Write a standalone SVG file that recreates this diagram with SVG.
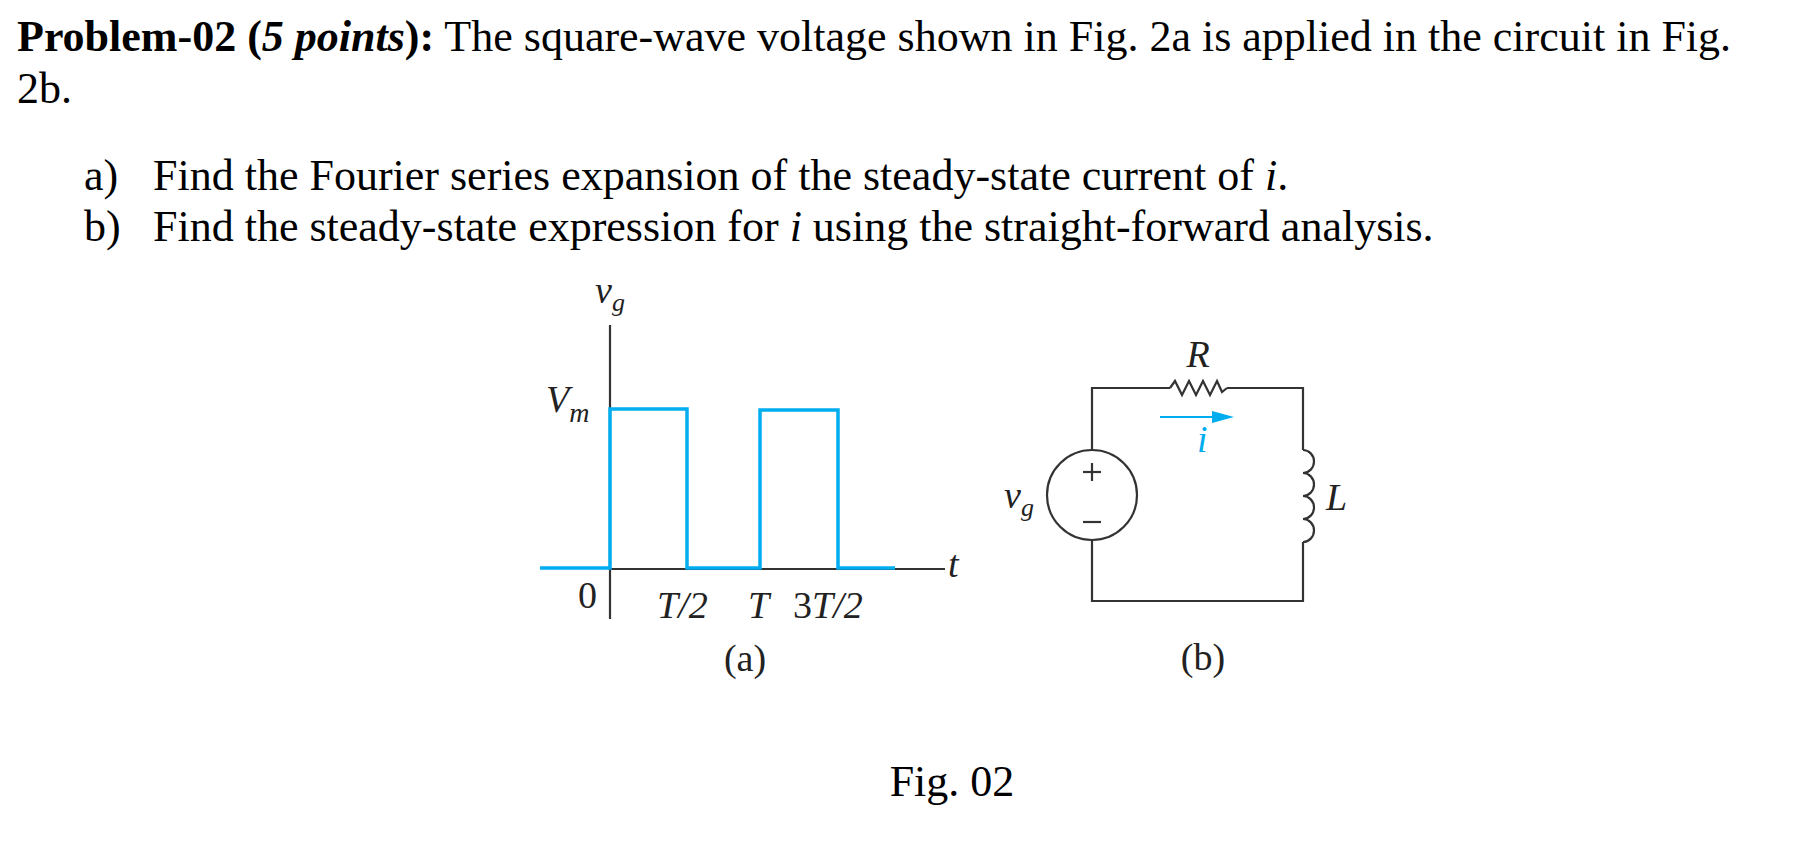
<svg xmlns="http://www.w3.org/2000/svg" width="1796" height="852" viewBox="0 0 1796 852">
<style>
.t{font-family:"Liberation Serif",serif;font-size:44px;fill:#000}
.m{font-family:"Liberation Serif",serif;font-style:italic;font-size:38px;fill:#222}
.n{font-family:"Liberation Serif",serif;font-size:38px;fill:#222}
.w{fill:none;stroke:#333;stroke-width:2.2}
.b{fill:none;stroke:#00AEEF;stroke-width:3.5}
</style>
<rect width="1796" height="852" fill="#fff"/>
<g id="text">
<text class="t" x="17" y="51"><tspan font-weight="bold">Problem-02 (</tspan><tspan font-weight="bold" font-style="italic">5 points</tspan><tspan font-weight="bold">):</tspan> The square-wave voltage shown in Fig. 2a is applied in the circuit in Fig.</text>
<text class="t" x="17" y="103">2b.</text>
<text class="t" x="84" y="190">a)</text>
<text class="t" x="153" y="190">Find the Fourier series expansion of the steady-state current of <tspan font-style="italic">i</tspan>.</text>
<text class="t" x="84" y="241">b)</text>
<text class="t" x="153" y="241">Find the steady-state expression for <tspan font-style="italic">i</tspan> using the straight-forward analysis.</text>
<text class="t" x="952" y="796" text-anchor="middle">Fig. 02</text>
</g>
<g id="chart-a">
<line class="w" x1="610" y1="325" x2="610" y2="619"/>
<line class="w" x1="610" y1="569" x2="945" y2="569"/>
<polyline class="b" points="540,568 610,568 610,409 687,409 687,568 760,568 760,410 838,410 838,568 895,568"/>
<text class="m" x="595" y="303">v<tspan font-size="26" dy="8">g</tspan></text>
<text class="m" x="546" y="412">V<tspan font-size="28" dy="10">m</tspan></text>
<text class="n" x="578" y="608">0</text>
<text class="m" x="657" y="618">T/2</text>
<text class="m" x="748" y="618">T</text>
<text class="m" x="793" y="618"><tspan font-style="normal">3</tspan>T/2</text>
<text class="m" x="948" y="577" font-size="30">t</text>
<text class="n" x="745" y="671" text-anchor="middle">(a)</text>
</g>
<g id="circuit-b">
<g id="source">
<circle class="w" cx="1092" cy="495" r="45"/>
<line class="w" x1="1083" y1="472" x2="1101" y2="472"/><line class="w" x1="1092" y1="463" x2="1092" y2="481"/>
<line class="w" x1="1083" y1="522" x2="1101" y2="522"/>
<text class="m" x="1004" y="508">v<tspan font-size="26" dy="8">g</tspan></text>
</g>
<g id="wires">
<polyline class="w" points="1092,450 1092,388 1170,388"/>
<polyline class="w" points="1227,388 1303,388 1303,450"/>
<polyline class="w" points="1303,542 1303,601 1092,601 1092,540"/>
</g>
<g id="resistor">
<polyline class="w" points="1170,388 1175,381 1182,395 1189,381 1196,395 1203,381 1210,395 1217,381 1222,392 1227,388"/>
<text class="m" x="1198" y="367" text-anchor="middle">R</text>
</g>
<g id="inductor">
<path class="w" d="M1303,450 a11,11.5 0 0 1 0,23 a11,11.5 0 0 1 0,23 a11,11.5 0 0 1 0,23 a11,11.5 0 0 1 0,23"/>
<text class="m" x="1326" y="510">L</text>
</g>
<g id="current">
<line stroke="#00AEEF" stroke-width="2" x1="1160" y1="417" x2="1220" y2="417"/>
<polygon fill="#00AEEF" points="1234,417 1212,411 1212,423"/>
<text class="m" x="1197" y="452" font-size="32" style="fill:#00AEEF">i</text>
</g>
<text class="n" x="1203" y="670" text-anchor="middle">(b)</text>
</g>
</svg>
